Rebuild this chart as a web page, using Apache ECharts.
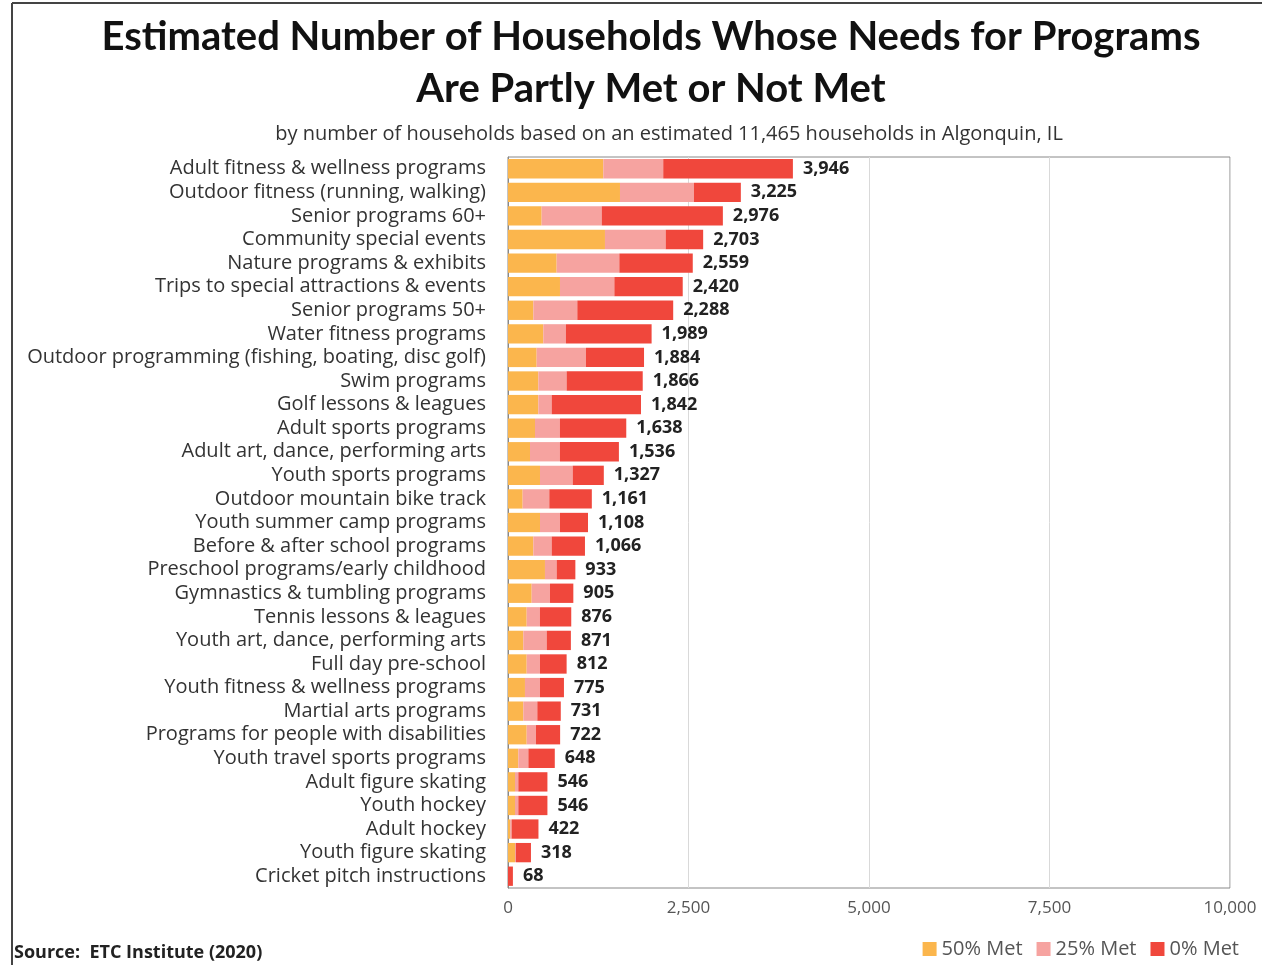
<!DOCTYPE html>
<html>
<head>
<meta charset="utf-8">
<style>
html,body{margin:0;padding:0;background:#fff;}
#chart{width:1262px;height:965px;}
</style>
<script src="https://cdn.jsdelivr.net/npm/echarts@6/dist/echarts.min.js"></script>
</head>
<body>
<div id="chart"></div>
<script>
const categories = [
  "Adult fitness & wellness programs",
  "Outdoor fitness (running, walking)",
  "Senior programs 60+",
  "Community special events",
  "Nature programs & exhibits",
  "Trips to special attractions & events",
  "Senior programs 50+",
  "Water fitness programs",
  "Outdoor programming (fishing, boating, disc golf)",
  "Swim programs",
  "Golf lessons & leagues",
  "Adult sports programs",
  "Adult art, dance, performing arts",
  "Youth sports programs",
  "Outdoor mountain bike track",
  "Youth summer camp programs",
  "Before & after school programs",
  "Preschool programs/early childhood",
  "Gymnastics & tumbling programs",
  "Tennis lessons & leagues",
  "Youth art, dance, performing arts",
  "Full day pre-school",
  "Youth fitness & wellness programs",
  "Martial arts programs",
  "Programs for people with disabilities",
  "Youth travel sports programs",
  "Adult figure skating",
  "Youth hockey",
  "Adult hockey",
  "Youth figure skating",
  "Cricket pitch instructions"
];
const met50 = [1320,1551,466,1343,674,720,351,489,397,420,420,374,305,443,203,443,351,512,328,259,212,259,235,212,259,143,97,97,30,97,0];
const met25 = [830,1025,832,841,868,753,609,314,683,392,185,346,415,453,369,277,254,162,254,184,324,184,208,194,129,139,46,46,20,13,0];
const met0  = [1796,649,1678,519,1017,947,1328,1186,804,1054,1237,918,816,431,589,388,461,259,323,433,335,369,332,325,334,366,403,403,372,208,68];
const totals = [3946,3225,2976,2703,2559,2420,2288,1989,1884,1866,1842,1638,1536,1327,1161,1108,1066,933,905,876,871,812,775,731,722,648,546,546,422,318,68];
const xTicks = [0,2500,5000,7500,10000];

const FONT = '"Open Sans", Lato, sans-serif';
const chart = echarts.init(document.getElementById('chart'), null, {renderer:'canvas'});
const fmt = v => v.toLocaleString('en-US');

chart.setOption({
  animation:false,
  backgroundColor:'#fff',
  textStyle:{fontFamily:FONT},
  title:[
    {text:'Estimated Number of Households Whose Needs for Programs\nAre Partly Met or Not Met',
     left:646, top:6, textAlign:'center',
     textStyle:{fontFamily:'Lato, sans-serif',fontSize:40,fontWeight:'bold',color:'#111',lineHeight:52}},
    {text:'by number of households based on an estimated 11,465 households in Algonquin, IL',
     left:664, top:119, textAlign:'center',
     textStyle:{fontFamily:FONT,fontSize:20,fontWeight:'normal',color:'#333'}},
    {text:'Source:  ETC Institute (2020)', left:9, top:939,
     textStyle:{fontFamily:FONT,fontSize:18,fontWeight:'bold',color:'#222'}}
  ],
  legend:{
    right:18, top:934, itemWidth:14, itemHeight:14, itemGap:14,
    icon:'rect',
    textStyle:{fontFamily:FONT,fontSize:20,color:'#555',padding:[0,0,0,0]},
    data:['50% Met','25% Met','0% Met']
  },
  graphic:[
    {type:'line',shape:{x1:12,y1:3,x2:1262,y2:3},style:{stroke:'#444',lineWidth:2}},
    {type:'line',shape:{x1:12,y1:3,x2:12,y2:965},style:{stroke:'#444',lineWidth:2}}
  ],
  grid:{left:508,right:32,top:157,bottom:77,show:true,borderColor:'#888',borderWidth:1},
  xAxis:{
    type:'value', min:0, max:10000, interval:2500,
    axisLine:{show:false}, axisTick:{show:false},
    splitLine:{lineStyle:{color:'#d9d9d9'}},
    axisLabel:{fontFamily:FONT,fontSize:17,color:'#555',margin:12,
      formatter:v=>xTicks.includes(v)?fmt(v):''}
  },
  yAxis:{
    type:'category', data:categories, inverse:true,
    axisLine:{show:true,lineStyle:{color:'#888'}}, axisTick:{show:false},
    axisLabel:{interval:0,fontFamily:FONT,fontSize:20,color:'#333',margin:22}
  },
  series:[
    {name:'50% Met',type:'bar',stack:'t',data:met50,barCategoryGap:'18%',
     itemStyle:{color:'#FBB64D'}},
    {name:'25% Met',type:'bar',stack:'t',data:met25,
     itemStyle:{color:'#F6A3A0'}},
    {name:'0% Met',type:'bar',stack:'t',data:met0,
     itemStyle:{color:'#F0473C'},
     label:{show:true,position:'right',distance:10,
       formatter:p=>fmt(totals[p.dataIndex]),
       fontFamily:FONT,fontSize:18,fontWeight:'bold',color:'#222'}}
  ]
});
</script>
</body>
</html>
